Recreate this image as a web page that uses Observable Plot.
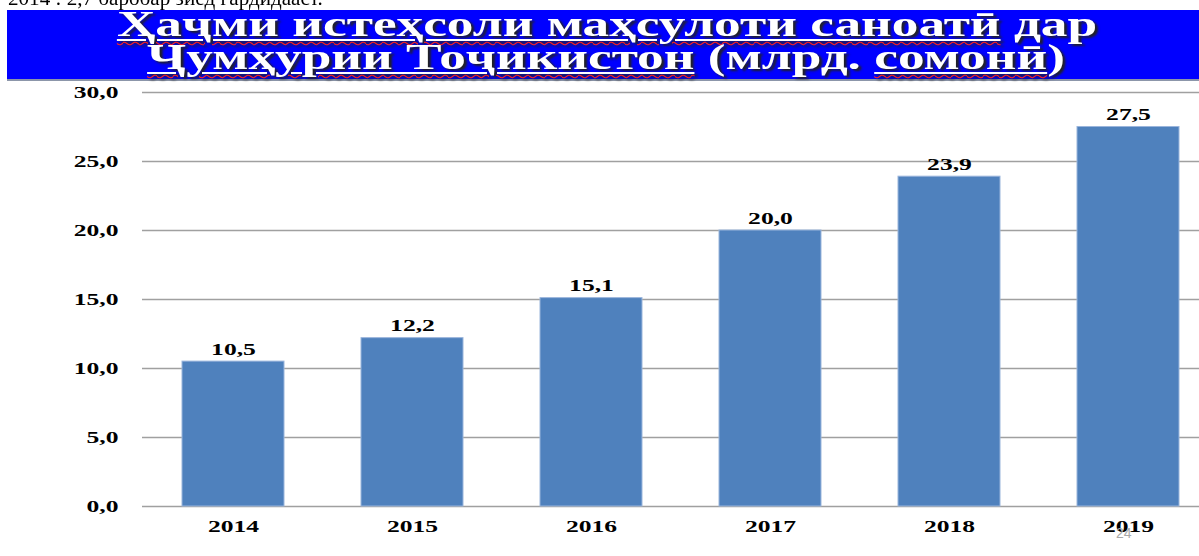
<!DOCTYPE html>
<html>
<head>
<meta charset="utf-8">
<script src="https://cdn.jsdelivr.net/npm/d3@7"></script>
<script src="https://cdn.jsdelivr.net/npm/@observablehq/plot@0.6"></script>
<style>
  html, body { margin: 0; padding: 0; background: #fff; overflow: hidden; }
  #root { position: relative; width: 1199px; height: 556px; overflow: hidden; }
  #topline { position: absolute; left: 8px; top: -15px; font: 22px "Liberation Serif", serif; color: #000; white-space: nowrap; transform: scaleX(0.96); transform-origin: 0 0; }
  #banner { position: absolute; left: 7px; top: 10px; width: 1192px; height: 71px; background: #0000ff;
            border-bottom: 2px solid #8c96aa; box-sizing: border-box; }
  #banner .l { position: absolute; left: 8px; right: 0; text-align: center; white-space: nowrap;
               font: bold 36px/36px "Liberation Serif", "DejaVu Serif", serif; color: #fff;
               text-shadow: 2px 2px 2px #222; transform: scaleX(1.48); transform-origin: 50% 50%; }
  #banner .l1 { top: -4px; }
  #banner .l2 { top: 29px; left: 6px; }
  .wv { text-decoration: underline wavy #ff2020; text-decoration-thickness: 1px; text-underline-offset: 5px; }
  .ul { text-decoration: underline #fff; text-decoration-thickness: 2px; text-underline-offset: 3px; }
  #chart { position: absolute; left: 0; top: 80px; }
  #page { position: absolute; left: 1116px; top: 525px; font: 14px "Liberation Sans", sans-serif; color: #a8a8a8; }
</style>
</head>
<body>
<div id="root">
  <div id="topline">2014 : 2,7 баробар зиёд гардидааст.</div>
  <div id="banner">
    <div class="l l1"><span class="wv"><span class="ul">Ҳаҷми истеҳсоли маҳсулоти саноатӣ</span></span> дар</div>
    <div class="l l2"><span class="wv"><span class="ul">Ҷумҳурии Тоҷикистон</span></span> (млрд. <span class="wv"><span class="ul">сомонӣ</span></span>)</div>
  </div>
  <div id="chart"></div>
  <div id="page">24</div>
</div>
<script>
const years = ["2014", "2015", "2016", "2017", "2018", "2019"];
const values = [10.5, 12.2, 15.1, 20.0, 23.9, 27.5];
const yTicks = [0, 5, 10, 15, 20, 25, 30];

const data = years.map((y, i) => ({year: y, value: values[i]}));
const fmt = v => v.toFixed(1).replace(".", ",");
const font = "'Liberation Serif', 'DejaVu Serif', serif";

const chart = Plot.plot({
  width: 1199,
  height: 476,
  marginTop: 12,
  marginBottom: 50,
  marginLeft: 142,
  marginRight: 0,
  style: {fontFamily: font, fontSize: "16px", fontWeight: "bold", color: "#000", background: "transparent"},
  x: {domain: years, range: [142, 1219], paddingInner: 0.43, paddingOuter: 0.215, label: null},
  y: {domain: [0, 30], label: null},
  marks: [
    Plot.ruleY(yTicks, {stroke: "#a0a0a0", strokeWidth: 1.3}),
    Plot.barY(data, {x: "year", y: "value", fill: "#4f81bd", stroke: "#9ab5dc", strokeWidth: 1}),
    Plot.text(data, {x: "year", y: "value", text: d => fmt(d.value), dy: -12, fontWeight: "bold", fontSize: 16, fill: "#000"}),
    Plot.axisY({ticks: yTicks, tickFormat: fmt, tickSize: 0, tickPadding: 24, fontWeight: "bold", fontSize: 16}),
    Plot.axisX({tickSize: 0, tickPadding: 14, fontWeight: "bold", fontSize: 16})
  ]
});
document.getElementById("chart").appendChild(chart);
// the reference's labels are drawn in a wide, horizontally stretched face
chart.querySelectorAll("text").forEach(t => {
  const w = t.getComputedTextLength();
  if (w > 0) {
    t.setAttribute("textLength", (w * 1.6).toFixed(1));
    t.setAttribute("lengthAdjust", "spacingAndGlyphs");
  }
});
</script>
</body>
</html>
